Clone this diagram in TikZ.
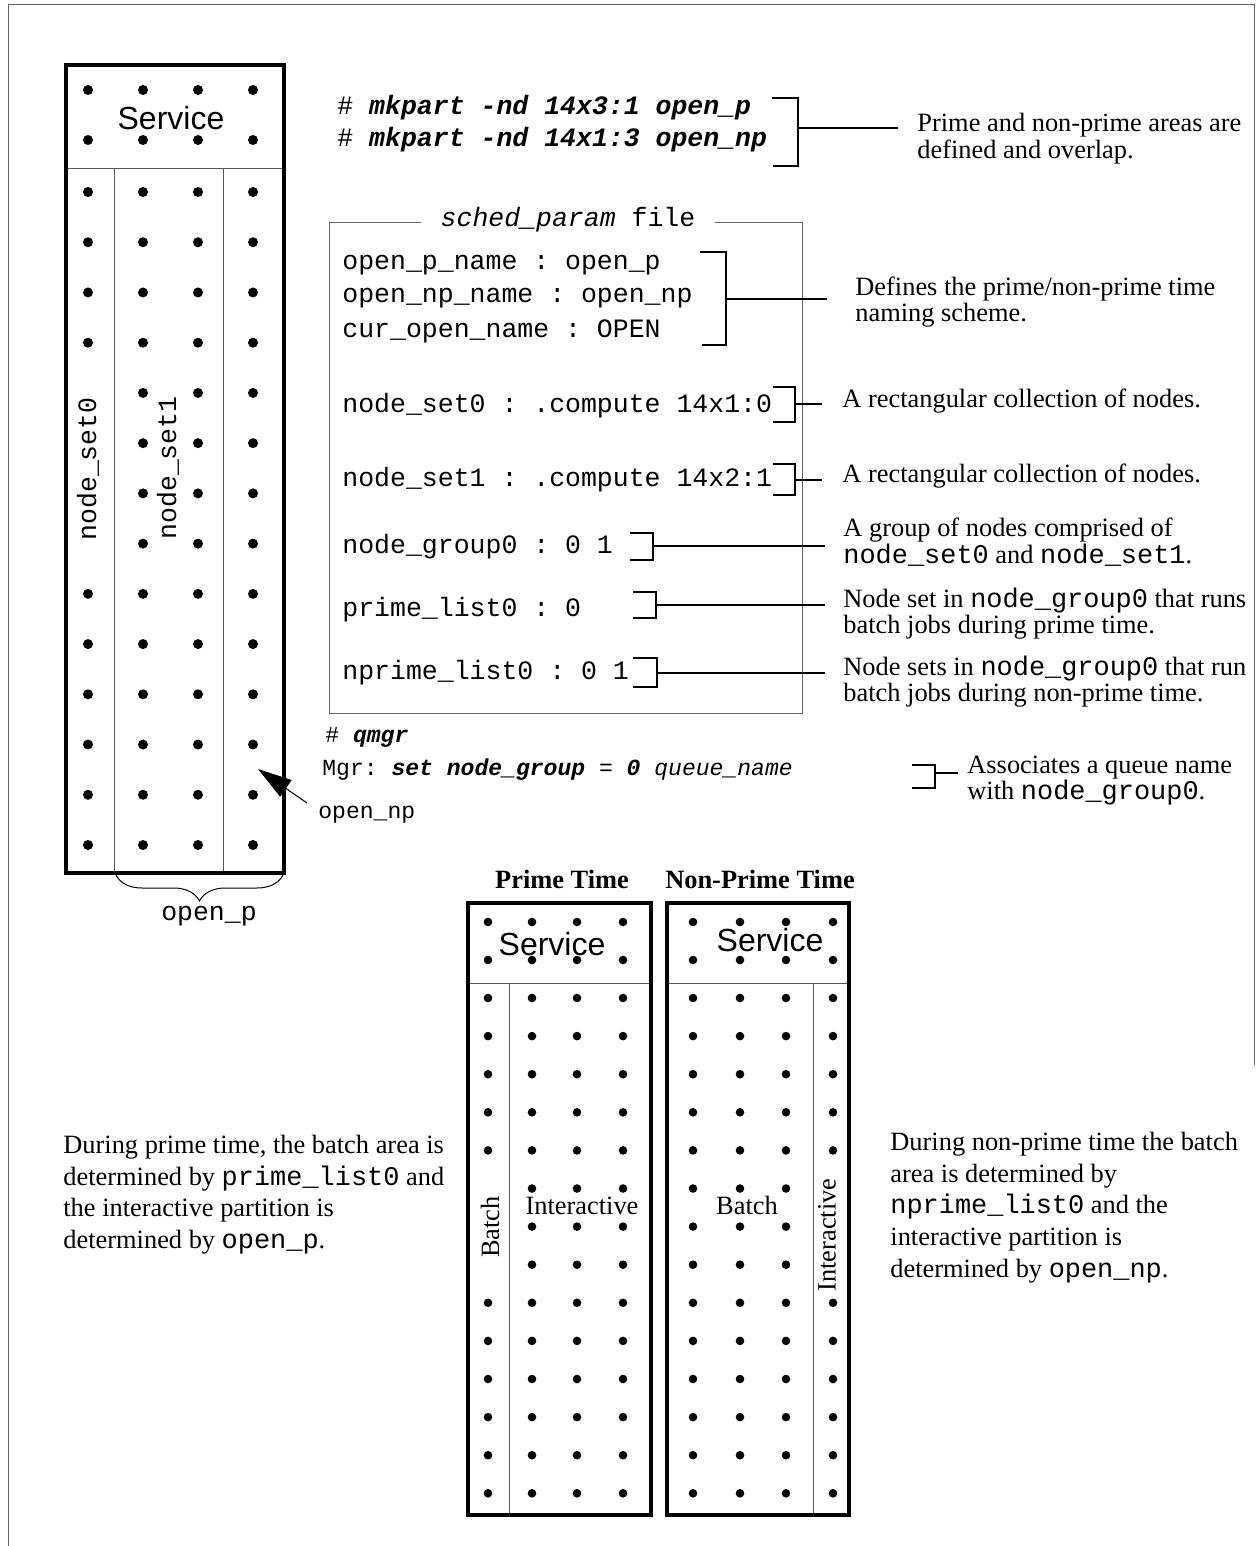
\documentclass[tikz,border=0pt]{standalone}
\usepackage{fontspec}
\setmainfont{Liberation Serif}
\setsansfont{Liberation Sans}
\setmonofont[Scale=1.02]{Liberation Mono}
\usetikzlibrary{arrows.meta,decorations.pathreplacing}
\begin{document}
\begin{tikzpicture}[x=0.5pt,y=-0.5pt,
  every node/.style={inner sep=0pt},
  ser/.style={anchor=base west, font=\fontsize{13.2pt}{14pt}\selectfont},
  mono/.style={anchor=base west, font=\fontsize{13pt}{14pt}\selectfont\ttfamily},
  smono/.style={anchor=base west, font=\fontsize{11.3pt}{12pt}\selectfont\ttfamily},
  rmono/.style={rotate=90, font=\fontsize{13pt}{14pt}\selectfont\ttfamily},
  rser/.style={rotate=90, font=\fontsize{13.2pt}{14pt}\selectfont},
  svc/.style={font=\fontsize{16pt}{17pt}\selectfont\sffamily},
  head/.style={anchor=base, font=\fontsize{13.2pt}{14pt}\selectfont\bfseries},
  dotA/.style={circle, fill=black, minimum size=5pt},
  dotB/.style={circle, fill=black, minimum size=4.3pt},
  heavy/.style={line width=1.6pt},
  sepline/.style={line width=0.5pt, black!65},
  thinframe/.style={line width=0.5pt, black!60},
  bracket/.style={line width=1pt},
  conn/.style={line width=0.7pt}
]
\fill[white] (0,0) rectangle (1258,1546);
\useasboundingbox (0,0) rectangle (1258,1546);

% outer frame
\draw[thinframe] (8,1546) -- (8,5) -- (1254,5) -- (1254,1065);

% ---------- left big box ----------
\draw[sepline] (66,169) -- (284,169);
\draw[sepline] (114,169) -- (114,873);
\draw[sepline] (223,169) -- (223,873);
\draw[heavy] (66,65) rectangle (284,873);
\node[svc] (svcA) at (171,118) {Service};
\foreach \y [count=\r] in {90,140}{
  \foreach \x [count=\c] in {88,143,198,253}{
    \node[dotA] (sa-\c-\r) at (\x,\y) {};
  }
}
\foreach \r in {0,...,13}{
  \foreach \x [count=\c] in {88,143,198,253}{
    \pgfmathtruncatemacro\keep{(\c==1 && \r>3 && \r<8) ? 0 : 1}
    \ifnum\keep=1 \node[dotA] (da-\c-\r) at (\x,{192+50.23*\r}) {};\fi
  }
}
\node[rmono] (ns0) at (88,469) {node\_set0};
\node[rmono] (ns1) at (168,468) {node\_set1};

% brace open_p
\coordinate (brL) at (116,875);
\coordinate (brR) at (283,875);
\draw[line width=0.5pt, decorate, decoration={brace, mirror, amplitude=13pt}] (brL) -- (brR);
\node[anchor=base, font=\fontsize{13pt}{14pt}\selectfont\ttfamily] (openp) at (209,920) {open\_p};

% arrow open_np
\node[smono] (opennp) at (318,818) {open\_np};
\coordinate (npA) at (307,803);
\coordinate (npT) at (258,769);
\draw[line width=0.5pt, -{Triangle[length=17pt, width=10pt]}] (npA) -- (npT);

% ---------- mkpart ----------
\node[mono] (mk1) at (337,115) {\# \textbf{\textit{mkpart -nd 14x3:1 open\_p}}};
\node[mono] (mk2) at (337,147) {\# \textbf{\textit{mkpart -nd 14x1:3 open\_np}}};
\draw[bracket] (772,98) -- (798,98) -- (798,166) -- (773,166);
\coordinate (b1) at (798,128);
\coordinate (e1) at (898,128);
\draw[conn] (b1) -- (e1);
\node[ser] (t1a) at (917,132) {Prime and non-prime areas are};
\node[ser] (t1b) at (917,159) {defined and overlap.};

% ---------- sched_param box ----------
\draw[thinframe] (329,223) rectangle (802,713);
\node[anchor=base, fill=white, inner xsep=10pt, inner ysep=3pt,
      font=\fontsize{13pt}{14pt}\selectfont\ttfamily] (title) at (568,227) {\textit{sched\_param} file};

\node[mono] (p1) at (342,270) {open\_p\_name : open\_p};
\node[mono] (p2) at (342,302) {open\_np\_name : open\_np};
\node[mono] (p3) at (342,337) {cur\_open\_name : OPEN};
\node[mono] (p4) at (342,412) {node\_set0 : .compute 14x1:0};
\node[mono] (p5) at (342,486) {node\_set1 : .compute 14x2:1};
\node[mono] (p6) at (342,553) {node\_group0 : 0 1};
\node[mono] (p7) at (342,616) {prime\_list0 : 0};
\node[mono] (p8) at (342,679) {nprime\_list0 : 0 1};

% bracket 2
\draw[bracket] (700,252) -- (726,252) -- (726,345) -- (702,345);
\coordinate (b2) at (726,299);
\coordinate (e2) at (827,299);
\draw[conn] (b2) -- (e2);
\node[ser] (t2a) at (855,295) {Defines the prime/non-prime time};
\node[ser] (t2b) at (855,321) {naming scheme.};

% bracket 3
\draw[bracket] (773,387) -- (795,387) -- (795,422) -- (773,422);
\coordinate (b3) at (795,404);
\coordinate (e3) at (822,404);
\draw[conn] (b3) -- (e3);
\node[ser] (t3) at (842,407) {A rectangular collection of nodes.};

% bracket 4
\draw[bracket] (773,464) -- (795,464) -- (795,495) -- (773,495);
\coordinate (b4) at (795,480);
\coordinate (e4) at (822,480);
\draw[conn] (b4) -- (e4);
\node[ser] (t4) at (842,482) {A rectangular collection of nodes.};

% bracket 5
\draw[bracket] (630,533) -- (653,533) -- (653,560) -- (630,560);
\coordinate (b5) at (653,546);
\coordinate (e5) at (825,546);
\draw[conn] (b5) -- (e5);
\node[ser] (t5a) at (843,536) {A group of nodes comprised of};
\node[ser] (t5b) at (843,563) {\texttt{node\_set0} and \texttt{node\_set1}.};

% bracket 6
\draw[bracket] (633,592) -- (656,592) -- (656,618) -- (633,618);
\coordinate (b6) at (656,605);
\coordinate (e6) at (825,605);
\draw[conn] (b6) -- (e6);
\node[ser] (t6a) at (843,607) {Node set in \texttt{node\_group0} that runs};
\node[ser] (t6b) at (843,633) {batch jobs during prime time.};

% bracket 7
\draw[bracket] (633,658) -- (657,658) -- (657,687) -- (633,687);
\coordinate (b7) at (657,673);
\coordinate (e7) at (825,673);
\draw[conn] (b7) -- (e7);
\node[ser] (t7a) at (843,675) {Node sets in \texttt{node\_group0} that run};
\node[ser] (t7b) at (843,701) {batch jobs during non-prime time.};

% ---------- qmgr ----------
\node[smono] (q1) at (325,742) {\# \textbf{\textit{qmgr}}};
\node[smono] (q2) at (322,775) {Mgr: \textbf{\textit{set node\_group}} = \textbf{\textit{0}} \textit{queue\_name}};
\draw[bracket] (912,765) -- (935,765) -- (935,788) -- (912,788);
\coordinate (b8) at (935,773);
\coordinate (e8) at (958,773);
\draw[conn] (b8) -- (e8);
\node[ser] (t8a) at (967,773) {Associates a queue name};
\node[ser] (t8b) at (967,799) {with \texttt{node\_group0}.};

% ---------- bottom boxes ----------
\node[head] (hP) at (562,888) {Prime Time};
\node[head] (hN) at (760,888) {Non-Prime Time};

% prime box
\draw[sepline] (468,983) -- (651,983);
\draw[sepline] (509,983) -- (509,1515);
\draw[heavy] (468,903) rectangle (651,1515);
\node[svc] (svcP) at (552,944) {Service};
\foreach \y [count=\r] in {922,960}{
  \foreach \x [count=\c] in {488,532,577,623}{
    \node[dotB] (sp-\c-\r) at (\x,\y) {};
  }
}
\foreach \r in {0,...,13}{
  \foreach \x [count=\c] in {488,532,577,623}{
    \pgfmathtruncatemacro\keep{(\c==1 && \r>4 && \r<8) ? 0 : 1}
    \ifnum\keep=1 \node[dotB] (dp-\c-\r) at (\x,{998+38.1*\r}) {};\fi
  }
}
\node[rser] (batchP) at (490,1227) {Batch};
\node[anchor=base, font=\fontsize{13.2pt}{14pt}\selectfont] (interP) at (582,1214) {Interactive};

% non-prime box
\draw[sepline] (667,983) -- (849,983);
\draw[sepline] (813,983) -- (813,1515);
\draw[heavy] (667,903) rectangle (849,1515);
\node[svc] (svcN) at (770,940) {Service};
\foreach \y [count=\r] in {922,960}{
  \foreach \x [count=\c] in {693,740,786,833}{
    \node[dotB] (sn-\c-\r) at (\x,\y) {};
  }
}
\foreach \r in {0,...,13}{
  \foreach \x [count=\c] in {693,740,786,833}{
    \pgfmathtruncatemacro\keep{(\c==4 && \r>4 && \r<8) ? 0 : 1}
    \ifnum\keep=1 \node[dotB] (dn-\c-\r) at (\x,{998+38.1*\r}) {};\fi
  }
}
\node[anchor=base, font=\fontsize{13.2pt}{14pt}\selectfont] (batchN) at (747,1214) {Batch};
\node[rser] (interN) at (827,1235) {Interactive};

% ---------- explanatory paragraphs ----------
\node[ser] (l1) at (63,1153) {During prime time, the batch area is};
\node[ser] (l2) at (63,1185) {determined by \texttt{prime\_list0} and};
\node[ser] (l3) at (63,1216) {the interactive partition is};
\node[ser] (l4) at (63,1248) {determined by \texttt{open\_p}.};

\node[ser] (r1) at (890,1150) {During non-prime time the batch};
\node[ser] (r2) at (890,1182) {area is determined by};
\node[ser] (r3) at (890,1213) {\texttt{nprime\_list0} and the};
\node[ser] (r4) at (890,1245) {interactive partition is};
\node[ser] (r5) at (890,1277) {determined by \texttt{open\_np}.};
\end{tikzpicture}
\end{document}
